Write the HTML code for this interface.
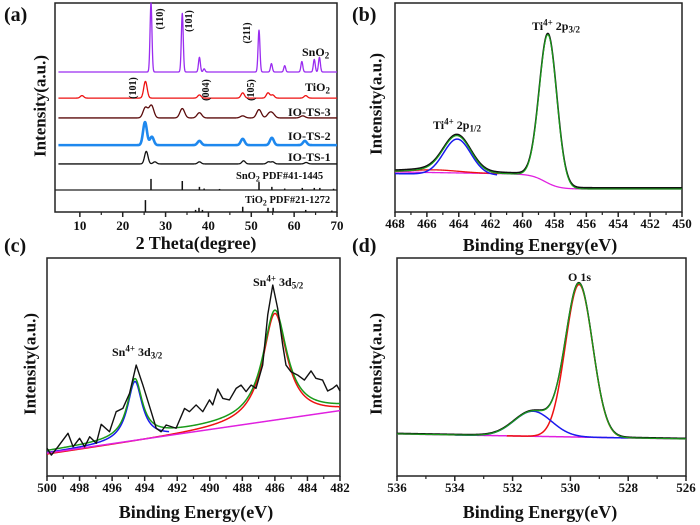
<!DOCTYPE html>
<html><head><meta charset="utf-8">
<style>
body{margin:0;background:#fff;}
#wrap{position:relative;width:700px;height:525px;overflow:hidden;font-family:"Liberation Serif",serif;font-weight:bold;color:#111;}
svg{position:absolute;left:0;top:0;}
.t{position:absolute;white-space:nowrap;line-height:1;}
.tk{font-size:13px;transform:translateX(-50%);}
.ax{font-size:18px;transform:translateX(-50%);}
.yt{font-size:17px;transform:translate(-50%,-50%) rotate(-90deg);}
.pl{font-size:20px;}
.lb{font-size:12px;}
sup{font-size:0.75em;vertical-align:0.5em;line-height:0}
sub{font-size:0.75em;vertical-align:-0.3em;line-height:0}
</style></head><body>
<div id="wrap">
<svg id="svg" width="700" height="525"></svg>

<div class="t pl" style="left:4px;top:5px">(a)</div>
<div class="t pl" style="left:352px;top:5px">(b)</div>
<div class="t pl" style="left:4px;top:236px">(c)</div>
<div class="t pl" style="left:352px;top:236px">(d)</div>

<div class="t ax" style="left:196px;top:234px">2 Theta(degree)</div>
<div class="t ax" style="left:540px;top:236px">Binding Energy(eV)</div>
<div class="t ax" style="left:196px;top:503px">Binding Energy(eV)</div>
<div class="t ax" style="left:540px;top:503px">Binding Energy(eV)</div>

<div class="t yt" style="left:40px;top:106px">Intensity(a.u.)</div>
<div class="t yt" style="left:376px;top:104px">Intensity(a.u.)</div>
<div class="t yt" style="left:30px;top:364px">Intensity(a.u.)</div>
<div class="t yt" style="left:376px;top:364px">Intensity(a.u.)</div>

<div class="t lb" style="left:302px;top:46px">SnO<sub>2</sub></div>
<div class="t lb" style="left:305px;top:81px">TiO<sub>2</sub></div>
<div class="t lb" style="left:288px;top:106px">IO-TS-3</div>
<div class="t lb" style="left:288px;top:130px">IO-TS-2</div>
<div class="t lb" style="left:288px;top:151px">IO-TS-1</div>
<div class="t" style="left:236px;top:172px;font-size:10.5px">SnO<sub>2</sub> PDF#41-1445</div>
<div class="t" style="left:245px;top:196px;font-size:10.5px">TiO<sub>2</sub> PDF#21-1272</div>

<div class="t" style="left:161px;top:19px;font-size:10px;transform:translate(-50%,-50%) rotate(-90deg)">(110)</div>
<div class="t" style="left:190px;top:21px;font-size:10px;transform:translate(-50%,-50%) rotate(-90deg)">(101)</div>
<div class="t" style="left:248px;top:33px;font-size:10px;transform:translate(-50%,-50%) rotate(-90deg)">(211)</div>
<div class="t" style="left:134px;top:88px;font-size:10px;transform:translate(-50%,-50%) rotate(-90deg)">(101)</div>
<div class="t" style="left:207px;top:90px;font-size:10px;transform:translate(-50%,-50%) rotate(-90deg)">(004)</div>
<div class="t" style="left:252px;top:90px;font-size:10px;transform:translate(-50%,-50%) rotate(-90deg)">(105)</div>

<div class="t lb" style="left:532px;top:20px">Ti<sup>4+</sup> 2p<sub>3/2</sub></div>
<div class="t lb" style="left:433px;top:119px">Ti<sup>4+</sup> 2p<sub>1/2</sub></div>
<div class="t lb" style="left:253px;top:276px">Sn<sup>4+</sup> 3d<sub>5/2</sub></div>
<div class="t lb" style="left:112px;top:346px">Sn<sup>4+</sup> 3d<sub>3/2</sub></div>
<div class="t lb" style="left:568px;top:271px">O 1s</div>
</div>
<script>
// ---- data: XRD (a) ----
const xrdSeries = ['SnO2','TiO2','IO-TS-3','IO-TS-2','IO-TS-1'];
const xrdColors = ['#9a2cf0','#ee1111','#5a0a0a','#1e88ee','#111111'];
const xrdOffsets = [67, 54.5, 45, 32, 23];
const xrdWidths = [0.22, 0.4, 0.55, 0.45, 0.4];
const xrdPeaksSnO2 = [[26.6,33],[33.9,28],[37.9,7],[39,1.5],[51.8,20],[54.7,4],[57.8,3],[61.8,5],[64.7,6],[65.9,7]];
const xrdPeaksTiO2 = [[10.5,1.2],[25.3,8],[37.9,1.5],[48,2.5],[53.9,2.5],[55,1.5],[62.7,1.2]];
const xrdPeaksTS3 = [[25.3,5],[26.7,6],[33.9,4.5],[37.9,2.5],[48,1],[51.8,4],[54.2,2],[55,1.8],[62,1]];
const xrdPeaksTS2 = [[25.2,11],[26.8,4],[37.9,2],[48,3],[54.8,3.5],[62.5,2]];
const xrdPeaksTS1 = [[25.5,6],[27.5,1],[37.9,1],[48.2,1.5],[54,1],[55,1],[62.8,0.7]];
const pdfSnO2Pos = [26.6,33.9,37.9,39,42.6,51.8,54.8,57.8,61.9,64.7,66,69.2];
const pdfSnO2Int = [5.3,4.3,1.5,0.7,0.5,3.8,1.5,0.7,1,1,1,0.6];
const pdfTiO2Pos = [25.3,37,37.8,38.6,48,53.9,55.1,62.7,68.8];
const pdfTiO2Int = [5.7,1,2,1,2.5,2,2,1,0.7];
const xrdTicks = [10,20,30,40,50,60,70];
// ---- data: Ti 2p (b) ----
const tiPeakCenters = [464.1, 458.4];
const tiPeakAmps = [17, 71];
const tiPeakWidths = [0.85, 0.55];
const tiBgHigh = 18.2, tiBgLow = 11, tiBgStep = 458.6;
const tiSatCenter = 465.5, tiSatAmp = 1.3;
const tiTicks = [468,466,464,462,460,458,456,454,452,450];
// ---- data: Sn 3d (c) ----
const snPeakCenters = [494.6, 486.0];
const snPeakAmps = [27, 49.5];
const snPeakHwhm = [0.55, 0.9];
const snBgLeft = 10.5, snBgRight = 30;
const snRawE = [500,499.73,499.33,498.71,498.40,498.0,497.69,497.38,496.97,496.67,496.16,495.75,495.34,494.93,494.52,494.11,493.60,493.29,492.99,492.68,492.07,491.55,491.25,490.84,490.43,490.02,489.82,489.51,489.20,488.79,488.38,488.08,487.77,487.46,487.16,486.75,486.44,486.13,485.83,485.52,485.32,485.01,484.60,484.19,483.78,483.48,483.07,482.76,482.45,482.2,482.0];
const snRawI = [12.7,9.6,13.4,19.6,13.4,17.3,13.4,18.0,15.0,23.7,20.3,29.5,31.0,37.9,50.9,41.7,29.5,21.9,20.3,23.4,21.9,31.0,29.5,32.6,29.5,34.9,32.6,39.9,35.6,34.9,40.2,41.7,38.7,41.7,40.2,50.9,73.9,87.6,76.9,60.1,50.9,47.8,46.3,44.0,48.2,44.8,44.0,39.0,40.2,41.7,39.0];
const snTicks = [500,498,496,494,492,490,488,486,484,482];
// ---- data: O 1s (d) ----
const oPeakCenters = [529.7, 531.3];
const oPeakAmps = [70, 11.5];
const oPeakWidths = [0.47, 0.65];
const oBgLeft = 19.3, oBgRight = 17.0;
const oTicks = [536,534,532,530,528,526];

const NS='http://www.w3.org/2000/svg';
const svg=document.getElementById('svg');
const wrap=document.getElementById('wrap');
function el(tag,attrs,parent){const e=document.createElementNS(NS,tag);for(const k in attrs)e.setAttribute(k,attrs[k]);(parent||svg).appendChild(e);return e;}
function mkAxes(L,R,T,B,x0,x1){return {L,R,T,B,x:v=>L+(v-x0)/(x1-x0)*(R-L),y:v=>B-v*(B-T)/100};}
function frame(a,ticks,minorStep,name,labY){
  const r=el('rect',{x:a.L,y:a.T,width:a.R-a.L,height:a.B-a.T,fill:'none',stroke:'#222','stroke-width':1.5});
  
  
  ticks.forEach((t,i)=>{
    const px=a.x(t);
    const ln=el('line',{x1:px,x2:px,y1:a.B,y2:a.B+5,stroke:'#222','stroke-width':1.5});
    
    
    const d=document.createElement('div');d.className='t tk';d.style.left=px+'px';d.style.top=labY+'px';d.textContent=t;
    
    
    wrap.appendChild(d);
    if(i<ticks.length-1){const m=a.x(t+minorStep*Math.sign(ticks[1]-ticks[0]));
      const mn=el('line',{x1:m,x2:m,y1:a.B,y2:a.B+3,stroke:'#222','stroke-width':1.2});
      
      }
  });
}
function path(a,xs,fn,color,w,name){
  let d='';xs.forEach((x,i)=>{d+=(i?'L':'M')+a.x(x).toFixed(2)+','+a.y(fn(x,i)).toFixed(2);});
  const p=el('path',{d,fill:'none',stroke:color,'stroke-width':w,'stroke-linejoin':'round'});
  
  
  return p;
}
function range(a,b,n){const r=[];for(let i=0;i<=n;i++)r.push(a+(b-a)*i/n);return r;}
const gauss=(x,c,w)=>Math.exp(-0.5*((x-c)/w)**2);
const lor=(x,c,h)=>1/(1+((x-c)/h)**2);

// ---- panel a ----
const A=mkAxes(55,337,3,212,4.2,70);
frame(A,xrdTicks,5,'xrd',219);
const sep=el('line',{x1:A.L,x2:A.R,y1:190,y2:190,stroke:'#222','stroke-width':1.3});


const xrdPeakSets=[xrdPeaksSnO2,xrdPeaksTiO2,xrdPeaksTS3,xrdPeaksTS2,xrdPeaksTS1];
const xs=range(5,70,1300);
xrdSeries.forEach((s,k)=>{
  path(A,xs,x=>xrdOffsets[k]+xrdPeakSets[k].reduce((acc,p)=>acc+p[1]*gauss(x,p[0],xrdWidths[k]),0),xrdColors[k],k==3?2.6:1.3,'xrd-line-'+s.toLowerCase());
});
const pdfBase1=(212-190)/2.09;
pdfSnO2Pos.forEach((p,i)=>{
  const l=el('line',{x1:A.x(p),x2:A.x(p),y1:A.y(pdfBase1),y2:A.y(pdfBase1+pdfSnO2Int[i]),stroke:'#111','stroke-width':1.5});
  
  
});
pdfTiO2Pos.forEach((p,i)=>{
  const l=el('line',{x1:A.x(p),x2:A.x(p),y1:A.y(0),y2:A.y(pdfTiO2Int[i]),stroke:'#111','stroke-width':1.5});
  
  
});

// ---- panel b ----
const Bp=mkAxes(395,682,3,212,468,450);
frame(Bp,tiTicks,1,'ti2p',217);
const tiBg=x=>tiBgLow+(tiBgHigh-tiBgLow)/(1+Math.exp(-(x-tiBgStep)/0.45))+0.12*(x-460)*(x>460?1:0);
const ebx=range(468,450,900);
const tiC=(x,j)=>tiPeakAmps[j]*gauss(x,tiPeakCenters[j],tiPeakWidths[j]);
const tiSat=x=>tiSatAmp*gauss(x,tiSatCenter,1.5);
path(Bp,ebx,x=>tiBg(x),'#e020e0',1.3,'ti-background');
path(Bp,range(468,461.5,300),x=>tiBg(x)+tiSat(x),'#ee1111',1.3,'ti-satellite');
path(Bp,range(468,461.6,300),x=>tiBg(x)+tiC(x,0)-0.8,'#1a1aee',1.5,'ti-2p12-component');
path(Bp,ebx,x=>tiBg(x)+tiC(x,0)+tiC(x,1)+tiSat(x)+0.6,'#111',1.6,'ti-raw-data');
path(Bp,ebx,x=>tiBg(x)+tiC(x,0)+tiC(x,1)+tiSat(x),'#1a9a1a',1.2,'ti-fit-envelope');

// ---- panel c ----
const C=mkAxes(47,340,258,476,500,482);
frame(C,snTicks,1,'sn3d',481);
const snBg=x=>snBgLeft+(500-x)/18*(snBgRight-snBgLeft);
const snC=(x,j)=>snPeakAmps[j]*lor(x,snPeakCenters[j],snPeakHwhm[j]);
const cx=range(500,482,900);
path(C,cx,x=>snBg(x)+snC(x,1)-0.6,'#ee1111',1.5,'sn-3d52-component');
path(C,range(500,492.5,400),x=>snBg(x)+snC(x,0),'#1a1aee',1.5,'sn-3d32-component');
path(C,cx,x=>snBg(x),'#e020e0',1.5,'sn-background');
path(C,cx,x=>snBg(x)+snC(x,0)+snC(x,1)+0.8,'#1a9a1a',1.5,'sn-fit-envelope');
path(C,snRawE,(x,i)=>snRawI[i],'#111',1.4,'sn-raw-data');

// ---- panel d ----
const D=mkAxes(397,686,258,476,536,526);
frame(D,oTicks,1,'o1s',481);
const oBg=x=>oBgLeft+(536-x)/10*(oBgRight-oBgLeft);
const oC=(x,j)=>oPeakAmps[j]*gauss(x,oPeakCenters[j],oPeakWidths[j]);
const dx=range(536,526,900);
path(D,dx,x=>oBg(x),'#e020e0',1.5,'o-background');
path(D,range(532.2,528,300),x=>oBg(x)+oC(x,0),'#ee1111',1.5,'o-lattice-component');
path(D,range(534,528,300),x=>oBg(x)+oC(x,1),'#1a1aee',1.5,'o-vacancy-component');
path(D,dx,x=>oBg(x)+oC(x,0)+oC(x,1)+0.3,'#111',1.4,'o-raw-data');
path(D,dx,x=>oBg(x)+oC(x,0)+oC(x,1),'#1a9a1a',1.3,'o-fit-envelope');
</script>
</body></html>
